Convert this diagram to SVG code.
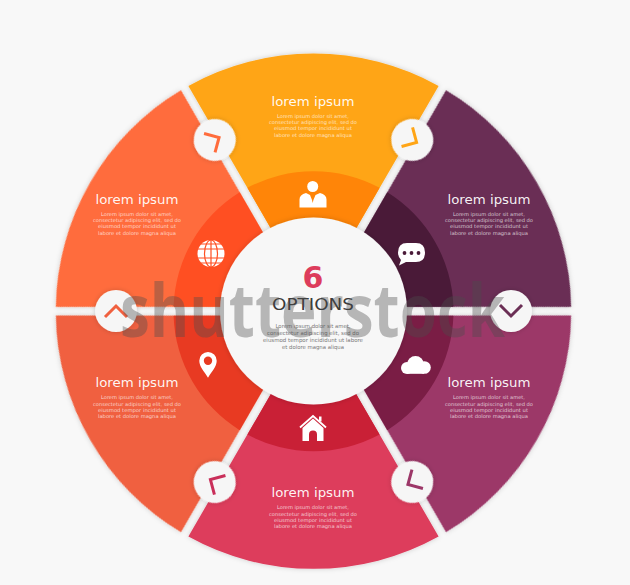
<svg xmlns="http://www.w3.org/2000/svg" width="630" height="585" viewBox="0 0 630 585">
<style>
text{font-family:"DejaVu Sans","Liberation Sans",sans-serif;text-anchor:middle}
.t{font-size:12.500px;fill:#fff;fill-opacity:.95}
.b{font-size:5px;fill:#fff;fill-opacity:.72}
.c{font-size:5.500px;fill:#777}
.i{fill:#fff}
.hc{fill:#f6f6f6;filter:url(#s)}
.ch{fill:none;stroke-width:3;stroke-linecap:butt;stroke-linejoin:miter}
</style>
<defs>
<filter id="s" x="-20%" y="-20%" width="140%" height="140%"><feDropShadow dx="0" dy="0" stdDeviation="2.500" flood-color="#000" flood-opacity=".18"/></filter>
<path id="band" d="M-125.100,-225.300A258 258 0 0 1 125.100,-225.300L38.600,-75.800A85 85 0 0 0 -38.600,-75.800Z"/>
<path id="ring" d="M-66.100,-123.400A140 140 0 0 1 66.100,-123.400L38.600,-75.800A85 85 0 0 0 -38.600,-75.800Z"/>
<circle id="disc" cx="-197.500" cy="0" r="21"/>
<path id="chev" d="M-208.500,6L-197.500,-5L-186.500,6"/>
</defs>
<rect width="630" height="585" fill="#f8f8f8"/>

<g id="sector-top" transform="translate(313.500 311.200)"><use href="#band" fill="#ffa516" filter="url(#s)"/><use href="#ring" fill="#ff8508"/></g>
<g id="sector-upper-right" transform="translate(313.500 311.200) rotate(60)"><use href="#band" fill="#6b2f55" filter="url(#s)"/><use href="#ring" fill="#4a1a38"/></g>
<g id="sector-lower-right" transform="translate(313.500 311.200) rotate(120)"><use href="#band" fill="#9c3768" filter="url(#s)"/><use href="#ring" fill="#7a1d45"/></g>
<g id="sector-bottom" transform="translate(313.500 311.200) rotate(180)"><use href="#band" fill="#dd3c5c" filter="url(#s)"/><use href="#ring" fill="#c92036"/></g>
<g id="sector-lower-left" transform="translate(313.500 311.200) rotate(240)"><use href="#band" fill="#f0603f" filter="url(#s)"/><use href="#ring" fill="#e83a22"/></g>
<g id="sector-upper-left" transform="translate(313.500 311.200) rotate(300)"><use href="#band" fill="#ff6c3c" filter="url(#s)"/><use href="#ring" fill="#ff4f22"/></g>

<g id="handles" transform="translate(313.500 311)">
<g id="handle-left"><use href="#disc" class="hc"/><use href="#chev" class="ch" stroke="#f0603f"/></g>
<g id="handle-upper-left" transform="rotate(60)"><use href="#disc" class="hc"/><use href="#chev" class="ch" stroke="#ff6c3c"/></g>
<g id="handle-upper-right" transform="rotate(120)"><use href="#disc" class="hc"/><use href="#chev" class="ch" stroke="#ffa516"/></g>
<g id="handle-right" transform="rotate(180)"><use href="#disc" class="hc"/><use href="#chev" class="ch" stroke="#6b2f55"/></g>
<g id="handle-lower-right" transform="rotate(240)"><use href="#disc" class="hc"/><use href="#chev" class="ch" stroke="#9c3768"/></g>
<g id="handle-lower-left" transform="rotate(300)"><use href="#disc" class="hc"/><use href="#chev" class="ch" stroke="#c92f5a"/></g>
</g>

<g id="center"><circle cx="313.500" cy="311" r="93.500" fill="#f7f7f7" filter="url(#s)"/>
<text x="313" y="288" font-size="30" font-weight="700" fill="#dd3c5c">6</text>
<text x="313" y="309.500" font-size="15" fill="#3a3a3a" textLength="82" lengthAdjust="spacingAndGlyphs">OPTIONS</text>
<text class="c" x="313" y="328" textLength="75" lengthAdjust="spacingAndGlyphs">Lorem ipsum dolor sit amet,</text>
<text class="c" x="313" y="335" textLength="92" lengthAdjust="spacingAndGlyphs">consectetur adipiscing elit, sed do</text>
<text class="c" x="313" y="341.500" textLength="100" lengthAdjust="spacingAndGlyphs">eiusmod tempor incididunt ut labore</text>
<text class="c" x="313" y="348.500" textLength="62" lengthAdjust="spacingAndGlyphs">et dolore magna aliqua</text>
</g>

<g id="label-top"><text class="t" x="313" y="105.500" textLength="83" lengthAdjust="spacingAndGlyphs">lorem ipsum</text>
<text class="b" x="313" y="117.500" textLength="72" lengthAdjust="spacingAndGlyphs">Lorem ipsum dolor sit amet,</text>
<text class="b" x="313" y="124" textLength="88" lengthAdjust="spacingAndGlyphs">consectetur adipiscing elit, sed do</text>
<text class="b" x="313" y="130.300" textLength="78" lengthAdjust="spacingAndGlyphs">eiusmod tempor incididunt ut</text>
<text class="b" x="313" y="136.700" textLength="78" lengthAdjust="spacingAndGlyphs">labore et dolore magna aliqua</text></g>
<g id="label-upper-left"><text class="t" x="137" y="203.500" textLength="83" lengthAdjust="spacingAndGlyphs">lorem ipsum</text>
<text class="b" x="137" y="215.500" textLength="72" lengthAdjust="spacingAndGlyphs">Lorem ipsum dolor sit amet,</text>
<text class="b" x="137" y="222" textLength="88" lengthAdjust="spacingAndGlyphs">consectetur adipiscing elit, sed do</text>
<text class="b" x="137" y="228.300" textLength="78" lengthAdjust="spacingAndGlyphs">eiusmod tempor incididunt ut</text>
<text class="b" x="137" y="234.700" textLength="78" lengthAdjust="spacingAndGlyphs">labore et dolore magna aliqua</text></g>
<g id="label-upper-right"><text class="t" x="489" y="203.500" textLength="83" lengthAdjust="spacingAndGlyphs">lorem ipsum</text>
<text class="b" x="489" y="215.500" textLength="72" lengthAdjust="spacingAndGlyphs">Lorem ipsum dolor sit amet,</text>
<text class="b" x="489" y="222" textLength="88" lengthAdjust="spacingAndGlyphs">consectetur adipiscing elit, sed do</text>
<text class="b" x="489" y="228.300" textLength="78" lengthAdjust="spacingAndGlyphs">eiusmod tempor incididunt ut</text>
<text class="b" x="489" y="234.700" textLength="78" lengthAdjust="spacingAndGlyphs">labore et dolore magna aliqua</text></g>
<g id="label-lower-left"><text class="t" x="137" y="387" textLength="83" lengthAdjust="spacingAndGlyphs">lorem ipsum</text>
<text class="b" x="137" y="399" textLength="72" lengthAdjust="spacingAndGlyphs">Lorem ipsum dolor sit amet,</text>
<text class="b" x="137" y="405.500" textLength="88" lengthAdjust="spacingAndGlyphs">consectetur adipiscing elit, sed do</text>
<text class="b" x="137" y="411.800" textLength="78" lengthAdjust="spacingAndGlyphs">eiusmod tempor incididunt ut</text>
<text class="b" x="137" y="418.200" textLength="78" lengthAdjust="spacingAndGlyphs">labore et dolore magna aliqua</text></g>
<g id="label-lower-right"><text class="t" x="489" y="387" textLength="83" lengthAdjust="spacingAndGlyphs">lorem ipsum</text>
<text class="b" x="489" y="399" textLength="72" lengthAdjust="spacingAndGlyphs">Lorem ipsum dolor sit amet,</text>
<text class="b" x="489" y="405.500" textLength="88" lengthAdjust="spacingAndGlyphs">consectetur adipiscing elit, sed do</text>
<text class="b" x="489" y="411.800" textLength="78" lengthAdjust="spacingAndGlyphs">eiusmod tempor incididunt ut</text>
<text class="b" x="489" y="418.200" textLength="78" lengthAdjust="spacingAndGlyphs">labore et dolore magna aliqua</text></g>
<g id="label-bottom"><text class="t" x="313" y="496.500" textLength="83" lengthAdjust="spacingAndGlyphs">lorem ipsum</text>
<text class="b" x="313" y="509" textLength="72" lengthAdjust="spacingAndGlyphs">Lorem ipsum dolor sit amet,</text>
<text class="b" x="313" y="515.500" textLength="88" lengthAdjust="spacingAndGlyphs">consectetur adipiscing elit, sed do</text>
<text class="b" x="313" y="521.800" textLength="78" lengthAdjust="spacingAndGlyphs">eiusmod tempor incididunt ut</text>
<text class="b" x="313" y="528.200" textLength="78" lengthAdjust="spacingAndGlyphs">labore et dolore magna aliqua</text></g>

<g id="icon-person" class="i"><circle cx="312.700" cy="186.500" r="5.500"/><path d="M299.500,207.500V199.500Q299.500,194.500 306,193L310,195L312,200L312.700,203L313.400,200L315.500,195L320,193Q326.500,194.500 326.500,199.500V207.500Z"/></g>
<g id="icon-globe"><circle cx="211" cy="253.500" r="13.500" fill="#fff"/><g fill="none" stroke="#ff4f22" stroke-width="1.200"><ellipse cx="211" cy="253.500" rx="6.500" ry="13.500"/><path d="M211,240V267M198,249H224M198,258H224M201,244H221M201,263H221"/></g></g>
<g id="icon-chat"><path class="i" d="M407,243H416Q425,243 425,252.500Q425,262 416,262H406L399,265.500L401,260Q398,257 398,252.500Q398,243 407,243Z"/><g fill="#4a1a38"><circle cx="404.500" cy="253" r="1.900"/><circle cx="411.500" cy="253" r="1.900"/><circle cx="418.500" cy="253" r="1.900"/></g></g>
<g id="icon-pin"><path class="i" d="M208,377.700C204,371 199.300,366.500 199.300,360.700A8.700 8.700 0 0 1 216.700,360.700C216.700,366.500 212,371 208,377.700Z"/><circle cx="208" cy="360.700" r="4.200" fill="#e83a22"/></g>
<g id="icon-cloud" class="i"><circle cx="407" cy="368" r="6"/><circle cx="415.500" cy="364.500" r="8.500"/><circle cx="424.500" cy="367.500" r="6.300"/><rect x="407" y="366" width="17" height="7.800"/></g>
<g id="icon-home"><path class="i" d="M302.500,428L313,418.500L323.500,428V441H317V434.500A4 4 0 0 0 309,434.500V441H302.500Z"/><path d="M300,427.500L313,416L326,427.500" fill="none" stroke="#fff" stroke-width="1.800"/><rect class="i" x="319" y="416.500" width="2.500" height="5"/></g>

<text id="watermark" x="312.500" y="337" font-size="74" font-weight="700" fill="#4d4d4d" fill-opacity=".38" textLength="385" lengthAdjust="spacingAndGlyphs" style="font-family:'Open Sans','Liberation Sans',sans-serif">shutterstock</text>
</svg>
